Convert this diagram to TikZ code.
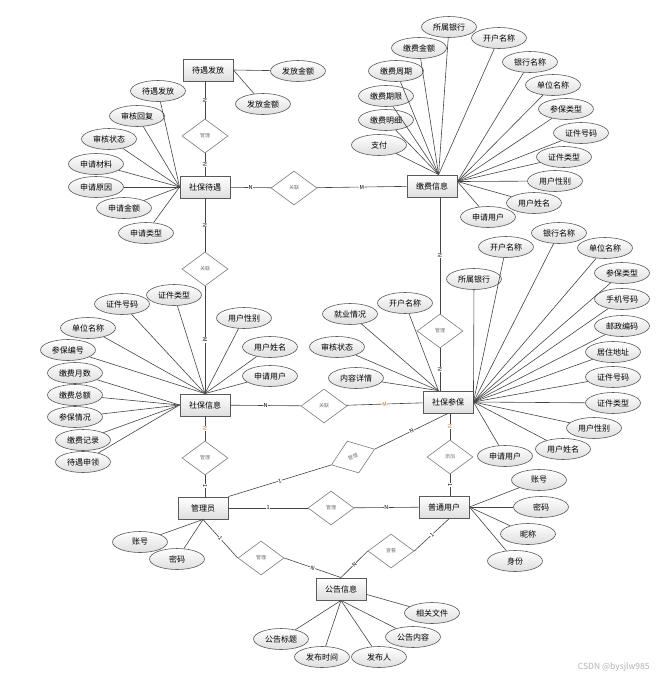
\documentclass[tikz,border=0pt]{standalone}
\usepackage{fontspec}
\usepackage{xcolor}
\usepackage{tikz}
\usetikzlibrary{shapes.geometric,shadows}
\newfontfamily\cjk{Noto Sans CJK SC}
\definecolor{lineg}{RGB}{68,68,68}
\definecolor{edgeg}{RGB}{90,90,90}
\definecolor{shadeg}{RGB}{222,222,222}
\definecolor{cardor}{RGB}{196,110,40}
\begin{document}
\begin{tikzpicture}[x=1pt,y=-1pt,
  ent/.style={draw=edgeg,line width=0.9pt,top color=white,bottom color=shadeg,minimum width=50pt,minimum height=22pt,inner sep=1pt,font=\cjk\fontsize{8}{9}\selectfont,drop shadow={shadow xshift=0.8pt,shadow yshift=-0.8pt,opacity=0.35}},
  attr/.style={ellipse,draw=edgeg,line width=0.6pt,top color=white,bottom color=shadeg,minimum width=55pt,minimum height=21pt,inner sep=0pt,font=\cjk\fontsize{8}{9}\selectfont},
  rel/.style={diamond,draw=edgeg!80,line width=0.6pt,fill=white,minimum width=46pt,minimum height=34pt,inner sep=0pt,font=\cjk\fontsize{5}{5}\selectfont,text=black!55},
  ln/.style={draw=lineg,line width=0.6pt},
  card/.style={fill=white,inner sep=0.4pt,sloped,font=\cjk\fontsize{5.5}{5.5}\selectfont}]
\useasboundingbox (0,0) rectangle (659,681);
\node[ent] (dyff) at (208,70) {待遇发放};
\node[ent] (sbdy) at (205,187) {社保待遇};
\node[ent] (jfxx) at (432,186) {缴费信息};
\node[ent] (sbxx) at (205,405) {社保信息};
\node[ent] (sbcb) at (448,402) {社保参保};
\node[ent] (gly) at (203,508) {管理员};
\node[ent] (ptyh) at (444,507) {普通用户};
\node[ent] (ggxx) at (341,589) {公告信息};
\node[rel] (glA) at (205,136) {管理};
\node[rel] (glnA) at (294,188) {关联};
\node[rel] (glnB) at (205,269) {关联};
\node[rel] (glnC) at (324,406) {关联};
\node[rel] (glB) at (440,331) {管理};
\node[rel] (glC) at (205,458) {管理};
\node[rel,rotate=20] (glD) at (353,457) {管理};
\node[rel] (tj) at (450,457) {添加};
\node[rel] (glE) at (331,508) {管理};
\node[rel] (glF) at (261,558) {管理};
\node[rel] (ck) at (391,551) {查看};
\draw[ln] (dyff.south -| glA) -- node[card]{N} (glA.north);
\draw[ln] (glA.south) -- node[card]{N} (sbdy.north -| glA);
\draw[ln] (sbdy) -- node[card]{N} (glnA);
\draw[ln] (glnA) -- node[card]{M} (jfxx);
\draw[ln] (sbdy.south -| glnB) -- node[card]{N} (glnB.north);
\draw[ln] (glnB.south) -- node[card]{M} (sbxx.north -| glnB);
\draw[ln] (sbxx) -- node[card]{N} (glnC);
\draw[ln] (glnC) -- node[card,text=cardor]{M} (sbcb);
\draw[ln] (jfxx.south -| glB) -- node[card]{N} (glB.north);
\draw[ln] (glB.south) -- node[card]{N} (sbcb.north -| glB);
\draw[ln] (sbxx.south -| glC) -- node[card,text=cardor]{N} (glC.north);
\draw[ln] (glC.south) -- node[card]{1} (gly.north -| glC);
\draw[ln] (gly.north east) -- node[card]{1} (glD.west);
\draw[ln] (glD.east) -- node[card]{N} (sbcb.south);
\draw[ln] (sbcb.south -| tj) -- node[card,text=cardor]{N} (tj.north);
\draw[ln] (tj.south) -- node[card]{1} (ptyh.north -| tj);
\draw[ln] (gly) -- node[card]{1} (glE);
\draw[ln] (glE) -- node[card]{N} (ptyh);
\draw[ln] (gly.south) -- node[card]{1} (glF.west);
\draw[ln] (glF.east) -- node[card]{N} (ggxx.north);
\draw[ln] (ptyh.-65) -- node[card]{1} (ck.east);
\draw[ln] (ck.west) -- node[card]{N} (ggxx.north);
\node[attr] (dyffA) at (298,71) {发放金额};
\node[attr] (dyffB) at (263,104) {发放金额};
\draw[ln] (dyff.east) -- (dyffA);
\draw[ln] (dyff.east) -- (dyffB);
\node[attr] (sbdyA) at (158,91) {待遇发放};
\node[attr] (sbdyB) at (137,116) {审核回复};
\node[attr] (sbdyC) at (109,139) {审核状态};
\node[attr] (sbdyD) at (96,164) {申请材料};
\node[attr] (sbdyE) at (96,187) {申请原因};
\node[attr] (sbdyF) at (124,208) {申请金额};
\node[attr] (sbdyG) at (146,233) {申请类型};
\draw[ln] (sbdyA) -- (sbdy.west);
\draw[ln] (sbdyB) -- (sbdy.west);
\draw[ln] (sbdyC) -- (sbdy.west);
\draw[ln] (sbdyD) -- (sbdy.west);
\draw[ln] (sbdyE) -- (sbdy.west);
\draw[ln] (sbdyF) -- (sbdy.west);
\draw[ln] (sbdyG) -- (sbdy.west);
\node[attr] (jfxxA) at (449,27) {所属银行};
\node[attr] (jfxxB) at (499,38) {开户名称};
\node[attr] (jfxxC) at (419,48) {缴费金额};
\node[attr] (jfxxD) at (396,71) {缴费周期};
\node[attr] (jfxxE) at (386,96) {缴费期限};
\node[attr] (jfxxF) at (386,120) {缴费明细};
\node[attr] (jfxxG) at (379,145) {支付};
\node[attr] (jfxxH) at (530,62) {银行名称};
\node[attr] (jfxxI) at (553,85) {单位名称};
\node[attr] (jfxxJ) at (566,109) {参保类型};
\node[attr] (jfxxK) at (581,133) {证件号码};
\node[attr] (jfxxL) at (564,157) {证件类型};
\node[attr] (jfxxM) at (555,181) {用户性别};
\node[attr] (jfxxN) at (534,203) {用户姓名};
\node[attr] (jfxxO) at (488,217) {申请用户};
\draw[ln] (jfxxA) -- (jfxx.60);
\draw[ln] (jfxxB) -- (jfxx.60);
\draw[ln] (jfxxC) -- (jfxx.60);
\draw[ln] (jfxxD) -- (jfxx.60);
\draw[ln] (jfxxE) -- (jfxx.60);
\draw[ln] (jfxxF) -- (jfxx.60);
\draw[ln] (jfxxG) -- (jfxx.60);
\draw[ln] (jfxxH) -- (jfxx.10);
\draw[ln] (jfxxI) -- (jfxx.10);
\draw[ln] (jfxxJ) -- (jfxx.10);
\draw[ln] (jfxxK) -- (jfxx.10);
\draw[ln] (jfxxL) -- (jfxx.10);
\draw[ln] (jfxxM) -- (jfxx.10);
\draw[ln] (jfxxN) -- (jfxx.10);
\draw[ln] (jfxxO) -- (jfxx.10);
\node[attr] (sbxxA) at (174,295) {证件类型};
\node[attr] (sbxxB) at (122,304) {证件号码};
\node[attr] (sbxxC) at (88,328) {单位名称};
\node[attr] (sbxxD) at (68,350) {参保编号};
\node[attr] (sbxxE) at (244,318) {用户性别};
\node[attr] (sbxxF) at (270,347) {用户姓名};
\node[attr] (sbxxG) at (270,376) {申请用户};
\node[attr] (sbxxH) at (75,373) {缴费月数};
\node[attr] (sbxxI) at (75,395) {缴费总额};
\node[attr] (sbxxJ) at (75,417) {参保情况};
\node[attr] (sbxxK) at (83,440) {缴费记录};
\node[attr] (sbxxL) at (83,462) {待遇申领};
\draw[ln] (sbxxA) -- (sbxx.north);
\draw[ln] (sbxxB) -- (sbxx.north);
\draw[ln] (sbxxC) -- (sbxx.north);
\draw[ln] (sbxxD) -- (sbxx.north);
\draw[ln] (sbxxE) -- (sbxx.north);
\draw[ln] (sbxxF) -- (sbxx.north);
\draw[ln] (sbxxG) -- (sbxx.north);
\draw[ln] (sbxxH) -- (sbxx.west);
\draw[ln] (sbxxI) -- (sbxx.west);
\draw[ln] (sbxxJ) -- (sbxx.west);
\draw[ln] (sbxxK) -- (sbxx.west);
\draw[ln] (sbxxL) -- (sbxx.west);
\node[attr] (sbcbA) at (405,303) {开户名称};
\node[attr] (sbcbB) at (350,314) {就业情况};
\node[attr] (sbcbC) at (337,347) {审核状态};
\node[attr] (sbcbD) at (356,378) {内容详情};
\node[attr] (sbcbE) at (559,233) {银行名称};
\node[attr] (sbcbF) at (506,247) {开户名称};
\node[attr] (sbcbG) at (605,248) {单位名称};
\node[attr] (sbcbH) at (474,279) {所属银行};
\node[attr] (sbcbI) at (622,273) {参保类型};
\node[attr] (sbcbJ) at (622,299) {手机号码};
\node[attr] (sbcbK) at (622,326) {邮政编码};
\node[attr] (sbcbL) at (613,352) {居住地址};
\node[attr] (sbcbM) at (613,377) {证件号码};
\node[attr] (sbcbN) at (613,403) {证件类型};
\node[attr] (sbcbO) at (594,428) {用户性别};
\node[attr] (sbcbP) at (563,449) {用户姓名};
\node[attr] (sbcbQ) at (505,456) {申请用户};
\draw[ln] (sbcbA) -- (sbcb.130);
\draw[ln] (sbcbB) -- (sbcb.130);
\draw[ln] (sbcbC) -- (sbcb.130);
\draw[ln] (sbcbD) -- (sbcb.130);
\draw[ln] (sbcbE) -- (sbcb.east);
\draw[ln] (sbcbF) -- (sbcb.east);
\draw[ln] (sbcbG) -- (sbcb.east);
\draw[ln] (sbcbH) -- (sbcb.east);
\draw[ln] (sbcbI) -- (sbcb.east);
\draw[ln] (sbcbJ) -- (sbcb.east);
\draw[ln] (sbcbK) -- (sbcb.east);
\draw[ln] (sbcbL) -- (sbcb.east);
\draw[ln] (sbcbM) -- (sbcb.east);
\draw[ln] (sbcbN) -- (sbcb.east);
\draw[ln] (sbcbO) -- (sbcb.east);
\draw[ln] (sbcbP) -- (sbcb.east);
\draw[ln] (sbcbQ) -- (sbcb.east);
\node[attr] (glyA) at (140,542) {账号};
\node[attr] (glyB) at (177,559) {密码};
\draw[ln] (glyA) -- (gly.south);
\draw[ln] (glyB) -- (gly.south);
\node[attr] (ptyhA) at (539,480) {账号};
\node[attr] (ptyhB) at (541,507) {密码};
\node[attr] (ptyhC) at (528,534) {昵称};
\node[attr] (ptyhD) at (515,561) {身份};
\draw[ln] (ptyhA) -- (ptyh.east);
\draw[ln] (ptyhB) -- (ptyh.east);
\draw[ln] (ptyhC) -- (ptyh.east);
\draw[ln] (ptyhD) -- (ptyh.east);
\node[attr] (ggxxA) at (432,613) {相关文件};
\node[attr] (ggxxB) at (281,639) {公告标题};
\node[attr] (ggxxC) at (413,637) {公告内容};
\node[attr] (ggxxD) at (322,657) {发布时间};
\node[attr] (ggxxE) at (379,657) {发布人};
\draw[ln] (ggxxA) -- (ggxx.-12);
\draw[ln] (ggxxB) -- (ggxx.south);
\draw[ln] (ggxxC) -- (ggxx.south);
\draw[ln] (ggxxD) -- (ggxx.south);
\draw[ln] (ggxxE) -- (ggxx.south);
\node[anchor=east,text=black!30,font=\cjk\fontsize{8.5}{9}\selectfont] (wm) at (653,667) {CSDN @bysjlw985};
\end{tikzpicture}
\end{document}
